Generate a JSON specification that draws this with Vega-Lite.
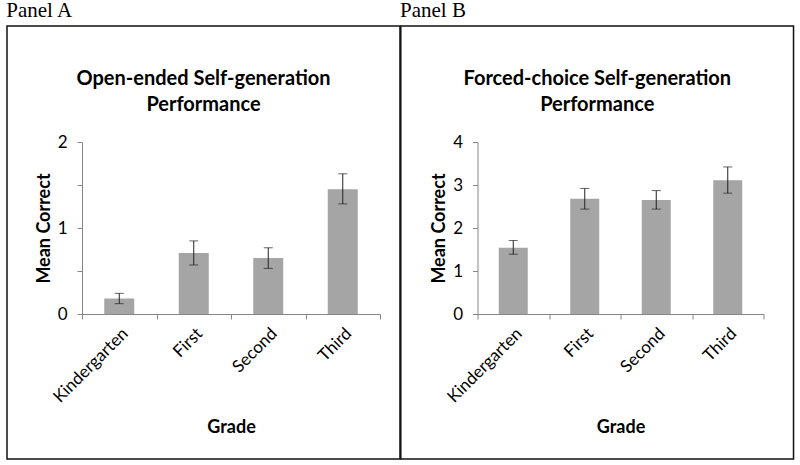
{
  "$schema": "https://vega.github.io/schema/vega-lite/v6.json",
  "background": "white",
  "padding": {"left": 6, "top": 0, "right": 5, "bottom": 5},
  "spacing": -1.5,
  "datasets": {
    "a": [
      {"grade": "Kindergarten", "order": 1, "mean": 0.18, "lower": 0.12, "upper": 0.24},
      {"grade": "First", "order": 2, "mean": 0.71, "lower": 0.57, "upper": 0.85},
      {"grade": "Second", "order": 3, "mean": 0.65, "lower": 0.53, "upper": 0.77},
      {"grade": "Third", "order": 4, "mean": 1.45, "lower": 1.28, "upper": 1.63}
    ],
    "b": [
      {"grade": "Kindergarten", "order": 1, "mean": 1.54, "lower": 1.39, "upper": 1.71},
      {"grade": "First", "order": 2, "mean": 2.68, "lower": 2.44, "upper": 2.92},
      {"grade": "Second", "order": 3, "mean": 2.65, "lower": 2.44, "upper": 2.87},
      {"grade": "Third", "order": 4, "mean": 3.11, "lower": 2.81, "upper": 3.42}
    ]
  },
  "config": {
    "view": {"stroke": null},
    "font": "Lato",
    "axis": {
      "domainColor": "#868686",
      "tickColor": "#868686",
      "tickSize": 5,
      "grid": false,
      "labelFont": "Lato",
      "labelFontSize": 17,
      "labelColor": "#000000",
      "titleFont": "Lato",
      "titleFontSize": 18,
      "titleFontWeight": "bold",
      "titleColor": "#000000"
    },
    "title": {
      "font": "Liberation Serif",
      "fontSize": 21,
      "fontWeight": "normal",
      "color": "#000000",
      "anchor": "start",
      "frame": "bounds",
      "offset": 0
    }
  },
  "hconcat": [
    {
      "width": 298,
      "height": 172,
      "title": "Panel A",
      "layer": [
        {
          "data": {"values": [{}]},
          "mark": {"type": "rect", "fill": null, "stroke": "#111111", "strokeWidth": 1.5},
          "encoding": {
            "x": {"datum": -0.5067, "type": "quantitative"},
            "x2": {"datum": 4.768},
            "y": {"datum": 3.349, "type": "quantitative"},
            "y2": {"datum": -1.686}
          }
        },
        {
          "data": {"values": [{"heading": ["Open-ended Self-generation", "Performance"]}]},
          "mark": {"type": "text", "font": "Lato", "fontSize": 20, "fontWeight": "bold", "align": "center", "baseline": "alphabetic", "lineHeight": 26, "color": "#000000"},
          "encoding": {
            "x": {"datum": 2.131, "type": "quantitative"},
            "y": {"datum": 2.666, "type": "quantitative"},
            "text": {"field": "heading"}
          }
        },
        {
          "data": {"name": "a"},
          "mark": {"type": "bar", "width": 30, "color": "#A5A5A5"},
          "encoding": {
            "x": {"field": "order", "type": "quantitative",
              "scale": {"domain": [0.5, 4.5], "nice": false, "zero": false, "padding": 0},
              "axis": {"values": [0.5, 1.5, 2.5, 3.5, 4.5], "labelAngle": -45, "labelPadding": 6, "labelOffset": 37.25,
                "labelFontSize": {"condition": {"test": "datum.value > 4", "value": 0}, "value": 17},
                "labelExpr": "{'0.5': 'Kindergarten', '1.5': 'First', '2.5': 'Second', '3.5': 'Third', '4.5': ''}[datum.value + '']",
                "title": "Grade", "titlePadding": 13}},
            "y": {"field": "mean", "type": "quantitative",
              "scale": {"domain": [0, 2], "nice": false, "zero": false, "padding": 0},
              "axis": {"values": [0, 0.5, 1, 1.5, 2], "labelExpr": "datum.value % 1 == 0 ? '' + datum.value : ''",
                "labelPadding": 10, "title": "Mean Correct", "titlePadding": 4}}
          }
        },
        {
          "data": {"name": "a"},
          "mark": {"type": "errorbar", "ticks": {"size": 9, "color": "#222222"}, "rule": {"color": "#222222", "strokeWidth": 1}},
          "encoding": {
            "x": {"field": "order", "type": "quantitative", "title": "Grade"},
            "y": {"field": "lower", "type": "quantitative", "title": "Mean Correct"},
            "y2": {"field": "upper"}
          }
        }
      ]
    },
    {
      "width": 286,
      "height": 172,
      "title": "Panel B",
      "layer": [
        {
          "data": {"values": [{}]},
          "mark": {"type": "rect", "fill": null, "stroke": "#111111", "strokeWidth": 1.5},
          "encoding": {
            "x": {"datum": -0.5727, "type": "quantitative"},
            "x2": {"datum": 4.92},
            "y": {"datum": 6.698, "type": "quantitative"},
            "y2": {"datum": -3.372}
          }
        },
        {
          "data": {"values": [{"heading": ["Forced-choice Self-generation", "Performance"]}]},
          "mark": {"type": "text", "font": "Lato", "fontSize": 20, "fontWeight": "bold", "align": "center", "baseline": "alphabetic", "lineHeight": 26, "color": "#000000"},
          "encoding": {
            "x": {"datum": 2.175, "type": "quantitative"},
            "y": {"datum": 5.333, "type": "quantitative"},
            "text": {"field": "heading"}
          }
        },
        {
          "data": {"name": "b"},
          "mark": {"type": "bar", "width": 29, "color": "#A5A5A5"},
          "encoding": {
            "x": {"field": "order", "type": "quantitative",
              "scale": {"domain": [0.5, 4.5], "nice": false, "zero": false, "padding": 0},
              "axis": {"values": [0.5, 1.5, 2.5, 3.5, 4.5], "labelAngle": -45, "labelPadding": 6, "labelOffset": 35.75,
                "labelFontSize": {"condition": {"test": "datum.value > 4", "value": 0}, "value": 17},
                "labelExpr": "{'0.5': 'Kindergarten', '1.5': 'First', '2.5': 'Second', '3.5': 'Third', '4.5': ''}[datum.value + '']",
                "title": "Grade", "titlePadding": 13}},
            "y": {"field": "mean", "type": "quantitative",
              "scale": {"domain": [0, 4], "nice": false, "zero": false, "padding": 0},
              "axis": {"values": [0, 0.5, 1, 1.5, 2, 2.5, 3, 3.5, 4], "labelExpr": "datum.value % 1 == 0 ? '' + datum.value : ''",
                "labelPadding": 10, "title": "Mean Correct", "titlePadding": 4}}
          }
        },
        {
          "data": {"name": "b"},
          "mark": {"type": "errorbar", "ticks": {"size": 9, "color": "#222222"}, "rule": {"color": "#222222", "strokeWidth": 1}},
          "encoding": {
            "x": {"field": "order", "type": "quantitative", "title": "Grade"},
            "y": {"field": "lower", "type": "quantitative", "title": "Mean Correct"},
            "y2": {"field": "upper"}
          }
        }
      ]
    }
  ]
}
